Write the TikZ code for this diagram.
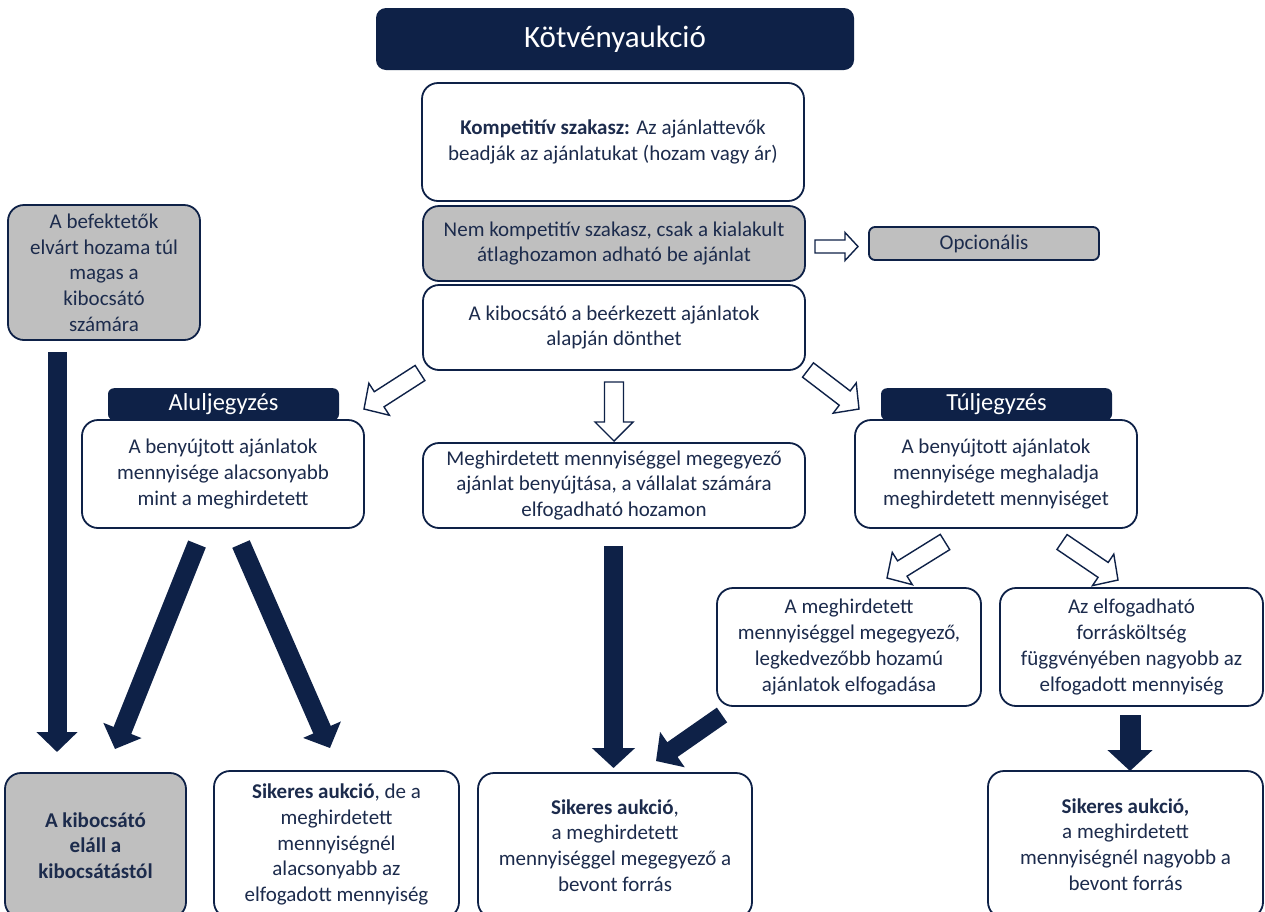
\documentclass[tikz,border=0pt]{standalone}
\usepackage{fontspec}
\setmainfont{Carlito}
\usetikzlibrary{arrows.meta,calc}

\definecolor{navy}{HTML}{0E2147}
\definecolor{ink}{HTML}{1C2B4C}
\definecolor{boxgray}{HTML}{BFBFBF}

\tikzset{
  box/.style={draw=navy, line width=1.8pt, rounded corners=16pt, fill=white,
    align=center, text=ink, inner sep=0pt,
    font=\fontsize{21}{25.7}\selectfont},
  graybox/.style={box, fill=boxgray},
  tab/.style={fill=navy, rounded corners=6pt, text=white, inner sep=0pt,
    font=\fontsize{24.5}{28}\selectfont},
  bigarrow/.style={draw=navy, line width=19pt, -{Triangle[width=40pt,length=20pt]}},
  hollow/.style={draw=navy, line width=1.4pt, fill=white, line join=miter}
}

% outline block arrow from #1 to #2: half shaft #3, half head #4, head length #5
\newcommand{\hollowarr}[5]{%
  \draw[hollow] ($(#1)!#3!-90:(#2)$)
    -- ($(#2)!#5!(#1)!#3!90:(#1)$)
    -- ($(#2)!#5!(#1)!#4!90:(#1)$)
    -- (#2)
    -- ($(#2)!#5!(#1)!#4!-90:(#1)$)
    -- ($(#2)!#5!(#1)!#3!-90:(#1)$)
    -- ($(#1)!#3!90:(#2)$) -- cycle;}

\begin{document}
\begin{tikzpicture}[x=1pt, y=-1pt]
  \fill[white] (0,0) rectangle (1265,911);
  \useasboundingbox (0,0) rectangle (1265,911);

  % Title
  \node[fill=navy, rounded corners=10pt, text=white, minimum width=478pt, minimum height=62pt,
    font=\fontsize{31}{36}\selectfont] (title) at (615,39) {Kötvényaukció};

  % Central column
  \node[box, minimum width=382pt, minimum height=118pt] (komp) at (613,142)
    {\textbf{Kompetitív szakasz:} Az ajánlattevők\\beadják az ajánlatukat (hozam vagy ár)};
  \node[graybox, minimum width=382pt, minimum height=75pt] (nemkomp) at (614,243.5)
    {Nem kompetitív szakasz, csak a kialakult\\átlaghozamon adható be ajánlat};
  \node[box, minimum width=382pt, minimum height=85pt] (dont) at (614,327.5)
    {A kibocsátó a beérkezett ajánlatok\\alapján dönthet};
  \node[graybox, rounded corners=6pt, minimum width=230pt, minimum height=33pt] (opc) at (984,243.5)
    {Opcionális};
  \node[box, minimum width=382pt, minimum height=85pt] (egyezo) at (614,485.5)
    {Meghirdetett mennyiséggel megegyező\\ajánlat benyújtása, a vállalat számára\\elfogadható hozamon};

  % Left column
  \node[graybox, minimum width=192pt, minimum height=135pt] (befekt) at (104,272.5)
    {A befektetők\\elvárt hozama túl\\magas a\\kibocsátó\\számára};
  \node[tab, minimum width=231pt, minimum height=32pt, anchor=north] (altab) at (223.5,388)
    {Aluljegyzés};
  \node[box, minimum width=282pt, minimum height=108pt] (alul) at (223,474)
    {A benyújtott ajánlatok\\mennyisége alacsonyabb\\mint a meghirdetett};

  % Right column
  \node[tab, minimum width=231pt, minimum height=32pt, anchor=north] (tultab) at (996.5,388)
    {Túljegyzés};
  \node[box, minimum width=282pt, minimum height=108pt] (tul) at (996,474)
    {A benyújtott ajánlatok\\mennyisége meghaladja\\meghirdetett mennyiséget};
  \node[box, minimum width=264pt, minimum height=118pt] (legjobb) at (849,647)
    {A meghirdetett\\mennyiséggel megegyező,\\legkedvezőbb hozamú\\ajánlatok elfogadása};
  \node[box, minimum width=263pt, minimum height=118pt] (koltseg) at (1131.5,647)
    {Az elfogadható\\forrásköltség\\függvényében nagyobb az\\elfogadott mennyiség};

  % Outcomes
  \node[graybox, minimum width=181pt, minimum height=145pt,
    font=\fontsize{21}{25.7}\selectfont\bfseries] (elall) at (95.5,845.5)
    {A kibocsátó\\eláll a\\kibocsátástól};
  \node[box, minimum width=245pt, minimum height=147pt] (sikal) at (336.5,844.5)
    {\textbf{Sikeres aukció}, de a\\meghirdetett\\mennyiségnél\\alacsonyabb az\\elfogadott mennyiség};
  \node[box, minimum width=274pt, minimum height=145pt] (sikmeg) at (615,845.5)
    {\textbf{Sikeres aukció},\\a meghirdetett\\mennyiséggel megegyező a\\bevont forrás};
  \node[box, minimum width=275pt, minimum height=147pt] (siktul) at (1125.5,844.5)
    {\textbf{Sikeres aukció,}\\a meghirdetett\\mennyiségnél nagyobb a\\bevont forrás};

  % Arrow ends
  \coordinate (o1) at (815,246.5);   \coordinate (o2) at (858,246.5);
  \coordinate (d1) at (420,373);     \coordinate (d2) at (364,409);
  \coordinate (d3) at (614,382);     \coordinate (d4) at (614,441);
  \coordinate (d5) at (808,370);     \coordinate (d6) at (859,409);
  \coordinate (t1) at (945,542);     \coordinate (t2) at (887,578);
  \coordinate (t3) at (1062,542);    \coordinate (t4) at (1118,580);
  \coordinate (b1) at (57,352);      \coordinate (b2) at (57,752);
  \coordinate (a1) at (197,544);     \coordinate (a2) at (115,749);
  \coordinate (a3) at (241,544);     \coordinate (a4) at (330,748);
  \coordinate (m1) at (613.5,546);   \coordinate (m2) at (613.5,768);
  \coordinate (l1) at (722,715);     \coordinate (l2) at (656,761);
  \coordinate (k1) at (1130,715);    \coordinate (k2) at (1130,771);

  % Outline arrows
  \hollowarr{o1}{o2}{6.5pt}{14pt}{13pt}
  \hollowarr{d1}{d2}{9pt}{19pt}{18pt}
  \hollowarr{d3}{d4}{9.5pt}{19pt}{19pt}
  \hollowarr{d5}{d6}{9pt}{19pt}{18pt}
  \hollowarr{t1}{t2}{9pt}{19pt}{18pt}
  \hollowarr{t3}{t4}{9pt}{19pt}{18pt}

  % Solid arrows
  \draw[bigarrow] (b1) -- (b2);
  \draw[bigarrow] (a1) -- (a2);
  \draw[bigarrow] (a3) -- (a4);
  \draw[bigarrow, -{Triangle[width=42pt,length=20pt]}] (m1) -- (m2);
  \draw[bigarrow, line width=18pt, -{Triangle[width=42pt,length=20pt]}] (l1) -- (l2);
  \draw[bigarrow, line width=21pt, -{Triangle[width=44pt,length=21pt]}] (k1) -- (k2);
\end{tikzpicture}
\end{document}
